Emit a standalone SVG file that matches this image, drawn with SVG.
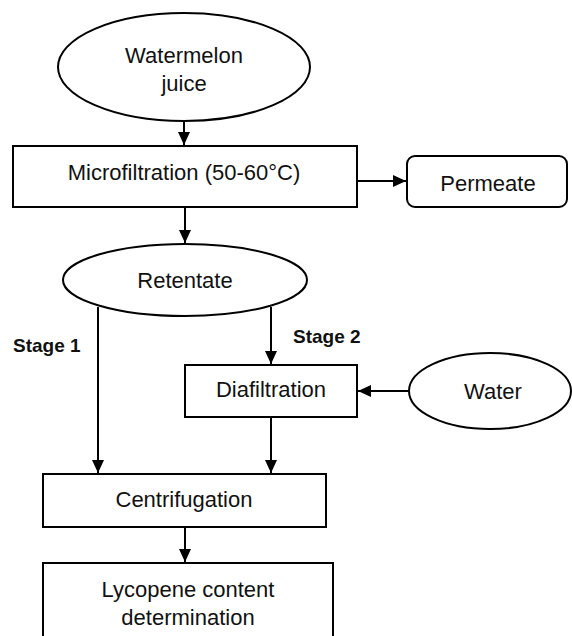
<svg xmlns="http://www.w3.org/2000/svg" width="572" height="636" viewBox="0 0 572 636">
<style>
.shape{fill:#fff;stroke:#000;stroke-width:2}
.t{font-family:"Liberation Sans",Arial,sans-serif;font-size:22px;fill:#111;text-anchor:middle}
.b{font-family:"Liberation Sans",Arial,sans-serif;font-size:19px;font-weight:bold;fill:#111}
.c{fill:none;stroke:#000;stroke-width:2}
</style>
<defs>
<marker id="arr" markerUnits="userSpaceOnUse" markerWidth="14" markerHeight="12" refX="13" refY="6" orient="auto">
<path d="M0,0 L13,6 L0,12 Z" fill="#000"/>
</marker>
</defs>
<rect width="572" height="636" fill="#fff"/>
<g id="connectors">
<line class="c" x1="184" y1="121" x2="184" y2="145" marker-end="url(#arr)"/>
<line class="c" x1="357" y1="181" x2="406" y2="181" marker-end="url(#arr)"/>
<line class="c" x1="185" y1="207" x2="185" y2="243" marker-end="url(#arr)"/>
<line class="c" x1="98" y1="307" x2="98" y2="473" marker-end="url(#arr)"/>
<line class="c" x1="271" y1="307" x2="271" y2="364" marker-end="url(#arr)"/>
<line class="c" x1="408" y1="391" x2="358" y2="391" marker-end="url(#arr)"/>
<line class="c" x1="271" y1="417" x2="271" y2="473" marker-end="url(#arr)"/>
<line class="c" x1="185" y1="527" x2="185" y2="562" marker-end="url(#arr)"/>
</g>
<g id="watermelon">
<ellipse class="shape" cx="184" cy="67" rx="126" ry="54"/>
<text class="t" x="184" y="63">Watermelon</text>
<text class="t" x="184" y="91">juice</text>
</g>
<g id="microfiltration">
<rect class="shape" x="13" y="146" width="344" height="61"/>
<text class="t" x="184" y="180">Microfiltration (50-60°C)</text>
</g>
<g id="permeate">
<rect class="shape" x="407" y="156" width="160" height="51" rx="8"/>
<text class="t" x="488" y="191">Permeate</text>
</g>
<g id="retentate">
<ellipse class="shape" cx="185" cy="280" rx="122" ry="36"/>
<text class="t" x="185" y="288">Retentate</text>
</g>
<g id="stage1">
<text class="b" x="13" y="352">Stage 1</text>
</g>
<g id="stage2">
<text class="b" x="293" y="343">Stage 2</text>
</g>
<g id="diafiltration">
<rect class="shape" x="185" y="365" width="172" height="52"/>
<text class="t" x="271" y="397">Diafiltration</text>
</g>
<g id="water">
<ellipse class="shape" cx="490" cy="391" rx="81" ry="38"/>
<text class="t" x="493" y="399">Water</text>
</g>
<g id="centrifugation">
<rect class="shape" x="43" y="474" width="283" height="53"/>
<text class="t" x="184" y="507">Centrifugation</text>
</g>
<g id="lycopene">
<rect class="shape" x="43" y="563" width="290" height="80"/>
<text class="t" x="188" y="597">Lycopene content</text>
<text class="t" x="188" y="625">determination</text>
</g>
</svg>
